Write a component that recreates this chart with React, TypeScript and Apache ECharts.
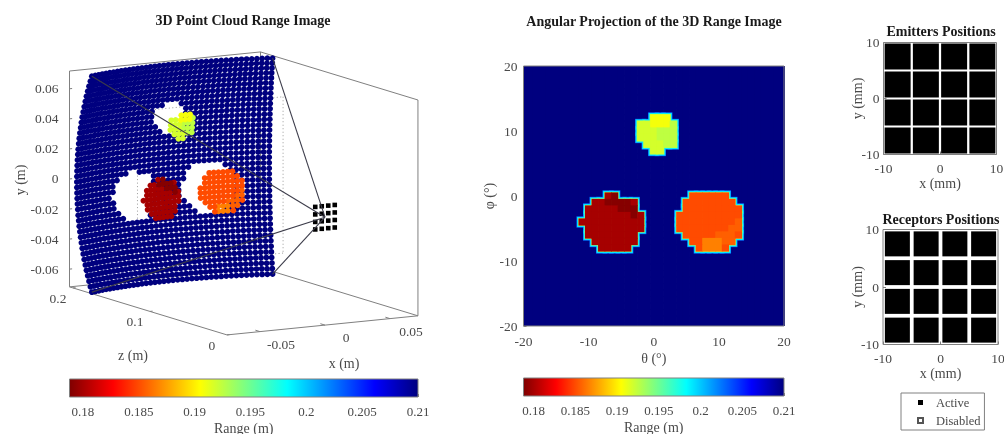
import React, { useEffect, useRef } from "react";
import * as echarts from "echarts";

const FONT = '"Liberation Serif"';
const TICK_COLOR = "#4a4a4a";
const BOX_COLOR = "#808080";

// Sampled range image: 41 rows (phi 20 -> -20) x 41 columns (theta -20 -> 20), one degree apart
const rangeRows = [
  ".........................................",
  ".........................................",
  ".........................................",
  ".........................................",
  ".........................................",
  ".........................................",
  ".........................................",
  ".........................................",
  "....................fff..................",
  "..................hhfffg.................",
  "..................hhhggg.................",
  "..................hhhggg.................",
  "...................hhhgg.................",
  "....................hh...................",
  ".........................................",
  ".........................................",
  ".........................................",
  ".........................................",
  ".........................................",
  ".........................................",
  ".............rD...........oooooo.........",
  "...........rrDDDDr.......oooooooo........",
  "..........rrrrrDDD.......ooooooooo.......",
  "..........rrrrrrrDr.....oooooooooo.......",
  ".........rrrrrrrrrr.....oooooooooe.......",
  "..........rrrrrrrrr.....ooooooooee.......",
  "..........rrrrrrrr.......oooooeeeo.......",
  "...........rrrrrrr........oodddee........",
  "............rrrrr..........odddo.........",
  ".........................................",
  ".........................................",
  ".........................................",
  ".........................................",
  ".........................................",
  ".........................................",
  ".........................................",
  ".........................................",
  ".........................................",
  ".........................................",
  ".........................................",
  ".........................................",
];
const rangeLevels: Record<string, number> = {
  ".": 0.21, D: 0.179, r: 0.18, o: 0.185, e: 0.1856, d: 0.1866, f: 0.1908, h: 0.1918, g: 0.1925,
};
const rangeMin = 0.1788;
const rangeMax = 0.21;
const rangeTicks = [0.18, 0.185, 0.19, 0.195, 0.2, 0.205, 0.21];
const angleTicks = [-20, -10, 0, 10, 20];
const mmTicks = [-10, 0, 10];
const sensorMm = [-7.5, -2.5, 2.5, 7.5];
const y3dTicks = [0.06, 0.04, 0.02, 0, -0.02, -0.04, -0.06];
const z3dTicks = [0.2, 0.1, 0];
const x3dTicks = [-0.05, 0, 0.05];
const fovCorners = [[-20, 20], [20, 20], [20, -20], [-20, -20]];
const frameHalf = { x: 0.056, y: 0.052, z: 0.149 };
const box3d = { x0: -0.0754, x1: 0.0715, y0: -0.0718, y1: 0.0718, z0: 0, z1: 0.2045 };
const cloudSpread = 1.03;
const cloudLift = -0.001;

const jetStops: [number, string][] = [
  [0, "#7f0000"], [0.125, "#ff0000"], [0.375, "#ffff00"], [0.625, "#00ffff"], [0.875, "#0000ff"], [1, "#00007f"],
];
const hex = (s: string) => [1, 3, 5].map((i) => parseInt(s.slice(i, i + 2), 16));
function jet(v: number) {
  const t = Math.max(0, Math.min(1, (v - rangeMin) / (rangeMax - rangeMin)));
  for (let i = 1; i < jetStops.length; i++) {
    if (t <= jetStops[i][0]) {
      const f = (t - jetStops[i - 1][0]) / (jetStops[i][0] - jetStops[i - 1][0]);
      const a = hex(jetStops[i - 1][1]);
      const b = hex(jetStops[i][1]);
      return `rgb(${a.map((c, k) => Math.round(c + (b[k] - c) * f)).join(",")})`;
    }
  }
  return jetStops[5][1];
}

// Orthographic view of the metric 3D scene on to the page
const project = (x: number, y: number, z: number) => [325 + 1300 * x - 770 * z, 217.2 - 130 * x - 235 * z - 1503 * y];
const rad = (d: number) => (d * Math.PI) / 180;
const spherical = (th: number, ph: number, r: number) => [
  cloudSpread * r * Math.sin(rad(th)) * Math.cos(rad(ph)),
  r * Math.sin(rad(ph)) + cloudLift,
  r * Math.cos(rad(th)) * Math.cos(rad(ph)),
];

const cells: number[][] = [];
rangeRows.forEach((row, k) => {
  row.split("").forEach((c, i) => cells.push([-20 + i, 20 - k, rangeLevels[c]]));
});
const blobCells = cells.filter((c) => c[2] < 0.21);

const segment3d = (a: number[], b: number[]) => {
  const p = project(a[0], a[1], a[2]);
  const q = project(b[0], b[1], b[2]);
  return [p[0], p[1], q[0], q[1]];
};

const segRender = (stroke: string, lineWidth: number, lineDash?: number[]) => (_: any, api: any) => {
  const a = api.coord([api.value(0), api.value(1)]);
  const b = api.coord([api.value(2), api.value(3)]);
  return {
    type: "line",
    shape: { x1: a[0], y1: a[1], x2: b[0], y2: b[1] },
    style: { stroke, lineWidth, lineDash, fill: null },
  };
};
const segSeries = (data: number[][], stroke: string, lineWidth: number, lineDash?: number[], z = 2) => ({
  type: "custom", xAxisIndex: 0, yAxisIndex: 0, silent: true, clip: false, data, z,
  renderItem: segRender(stroke, lineWidth, lineDash),
});
const cellSeries = (data: number[][], expand: number, color?: string) => ({
  type: "custom", xAxisIndex: 1, yAxisIndex: 1, silent: true, clip: true, data,
  renderItem: (_: any, api: any) => {
    const h = 0.5;
    const a = api.coord([api.value(0) - h, api.value(1) + h]);
    const b = api.coord([api.value(0) + h, api.value(1) - h]);
    return {
      type: "rect",
      shape: { x: a[0] - expand, y: a[1] - expand, width: b[0] - a[0] + 2 * expand, height: b[1] - a[1] + 2 * expand },
      style: { fill: color || jet(api.value(2)) },
    };
  },
});
const frameSeries = (axis: number, x0: number, x1: number, y0: number, y1: number) => ({
  type: "custom", xAxisIndex: axis, yAxisIndex: axis, silent: true, clip: false, z: 6, data: [[x0, y0, x1, y1]],
  renderItem: (_: any, api: any) => {
    const a = api.coord([api.value(0), api.value(3)]);
    const b = api.coord([api.value(2), api.value(1)]);
    return {
      type: "rect",
      shape: { x: a[0], y: a[1], width: b[0] - a[0], height: b[1] - a[1] },
      style: { fill: null, stroke: BOX_COLOR, lineWidth: 1 },
    };
  },
});
const colorbarSeries = (axis: number) => ({
  type: "custom", xAxisIndex: axis, yAxisIndex: axis, silent: true, clip: false, data: [[rangeMin, 0, rangeMax, 1]],
  renderItem: (_: any, api: any) => {
    const a = api.coord([api.value(0), api.value(3)]);
    const b = api.coord([api.value(2), api.value(1)]);
    return {
      type: "rect",
      shape: { x: a[0], y: a[1], width: b[0] - a[0], height: b[1] - a[1] },
      style: {
        fill: new echarts.graphic.LinearGradient(0, 0, 1, 0, jetStops.map(([offset, color]) => ({ offset, color }))),
      },
    };
  },
});

const sceneAxisX = { gridIndex: 0, type: "value", min: 0, max: 1004, show: false };
const sceneAxisY = { gridIndex: 0, type: "value", min: 0, max: 434, inverse: true, show: false };
const tickLabel = { fontFamily: FONT, fontSize: 13.5, color: TICK_COLOR };
const nameStyle = { fontFamily: FONT, fontSize: 14, color: TICK_COLOR };
const ticks = { show: true, inside: true, length: 3, lineStyle: { color: BOX_COLOR, width: 1 } };

const plotAxis = (gridIndex: number, values: number[], name: string, nameGap: number, margin: number) => ({
  gridIndex, type: "value", min: values[0], max: values[values.length - 1],
  interval: values[1] - values[0], name, nameLocation: "middle", nameGap, nameTextStyle: nameStyle, nameMoveOverlap: false,
  axisLine: { show: false, onZero: false }, axisTick: ticks, splitLine: { show: false },
  axisLabel: { ...tickLabel, margin, showMinLabel: true, showMaxLabel: true },
});
const colorbarAxis = (gridIndex: number) => ({
  gridIndex, type: "value", min: rangeMin, max: rangeMax, name: "Range (m)", nameLocation: "middle", nameGap: 24,
  nameTextStyle: nameStyle, nameMoveOverlap: false, axisLine: { show: false, onZero: false }, splitLine: { show: false },
  axisTick: { ...ticks, customValues: rangeTicks },
  axisLabel: { ...tickLabel, fontSize: 13, margin: 8, customValues: rangeTicks, formatter: (v: number) => String(v) },
});
const hiddenUnit = (gridIndex: number) => ({ gridIndex, type: "value", min: 0, max: 1, show: false });

const sensorGrid = sensorMm.flatMap((x) => sensorMm.map((y) => [x, y]));

function buildOption() {
  const { x0, x1, y0, y1, z0, z1 } = box3d;
  const boxEdges = [
    [[x0, y0, z1], [x0, y0, z0]], [[x0, y0, z0], [x1, y0, z0]], [[x1, y0, z0], [x1, y0, z1]], [[x1, y0, z1], [x0, y0, z1]],
    [[x0, y0, z1], [x0, y1, z1]], [[x1, y0, z1], [x1, y1, z1]], [[x1, y0, z0], [x1, y1, z0]],
    [[x0, y1, z1], [x1, y1, z1]], [[x1, y1, z1], [x1, y1, z0]],
  ].map(([a, b]) => segment3d(a, b));
  y3dTicks.forEach((y) => boxEdges.push(segment3d([x0, y, z1], [x0 + 0.002, y, z1])));
  z3dTicks.forEach((z) => boxEdges.push(segment3d([x0, y0, z], [x0 + 0.002, y0, z])));
  x3dTicks.forEach((x) => boxEdges.push(segment3d([x, y0, z0], [x, y0, z0 + 0.006])));

  const { x: fx, y: fy, z: fz } = frameHalf;
  const frameCorners = [[-fx, fy], [fx, fy], [fx, -fy], [-fx, -fy]];
  const dotted = frameCorners.map((c, i) => {
    const n = frameCorners[(i + 1) % 4];
    return segment3d([c[0], c[1], fz], [n[0], n[1], fz]);
  });

  const sensorOrigin = [0, 0, 0];
  const fovLines = fovCorners.map(([th, ph]) => segment3d(sensorOrigin, spherical(th, ph, rangeMax)));

  const cloud = [...cells]
    .sort((a, b) => b[2] - a[2])
    .map(([th, ph, r]) => {
      const s = spherical(th, ph, r);
      const p = project(s[0], s[1], s[2]);
      return { value: [p[0], p[1], r], itemStyle: { color: jet(r), opacity: 1 } };
    });

  const sensor3d = sensorGrid.map(([x, y]) => project(x / 1000, y / 1000, 0));

  const lbl = (text: string, p: number[], align = "center", fontSize = 13.5, rotation = 0) => ({
    type: "text", x: p[0], y: p[1], rotation, silent: true,
    style: { text, font: `${fontSize}px ${FONT}`, fill: TICK_COLOR, align, verticalAlign: "middle" },
  });

  const graphicTexts = [
    ...y3dTicks.map((y) => {
      const p = project(x0, y, z1);
      return lbl(String(y), [p[0] - 11, p[1]], "right");
    }),
    ...z3dTicks.map((z) => {
      const p = project(x0, y0, z);
      return lbl(String(z), [p[0] - 15, p[1] + 10.5]);
    }),
    ...x3dTicks.map((x) => {
      const p = project(x, y0, z0);
      return lbl(String(x), [p[0] + 21, p[1] + 12.5]);
    }),
    lbl("z (m)", [133, 355], "center", 14),
    lbl("x (m)", [344, 363], "center", 14),
    lbl("y (m)", [20, 180], "center", 14, Math.PI / 2),
  ];

  const titleStyle = (size: number) => ({ fontFamily: FONT, fontWeight: "bold", fontSize: size, color: "#1a1a1a" });
  const unbounded = { outerBoundsMode: "none", containLabel: false };

  return {
    animation: false,
    backgroundColor: "#ffffff",
    title: [
      { text: "3D Point Cloud Range Image", left: 243, top: 13, padding: 0, textAlign: "center", textStyle: titleStyle(14) },
      { text: "Angular Projection of the 3D Range Image", left: 654, top: 14, padding: 0, textAlign: "center", textStyle: titleStyle(14) },
      { text: "Emitters Positions", left: 941, top: 24, padding: 0, textAlign: "center", textStyle: titleStyle(14) },
      { text: "Receptors Positions", left: 941, top: 212, padding: 0, textAlign: "center", textStyle: titleStyle(14) },
    ],
    legend: {
      left: 901, top: 393, orient: "vertical", data: ["Active", "Disabled"], icon: "rect",
      itemWidth: 5, itemHeight: 5, itemGap: 5, padding: [3, 4, 3, 16],
      borderColor: BOX_COLOR, borderWidth: 1, selectedMode: false,
      textStyle: { fontFamily: FONT, fontSize: 12.5, color: TICK_COLOR, padding: [0, 0, 0, 8] },
    },
    grid: [
      { left: 0, top: 0, width: 1004, height: 434, ...unbounded },
      { left: 523.5, top: 66, width: 260.5, height: 260, ...unbounded },
      { left: 69.5, top: 379, width: 348.5, height: 18, ...unbounded },
      { left: 523.5, top: 378, width: 260.5, height: 18, ...unbounded },
      { left: 883.5, top: 42.5, width: 113, height: 112, ...unbounded },
      { left: 883, top: 229.5, width: 115, height: 115, ...unbounded },
    ],
    xAxis: [
      sceneAxisX,
      plotAxis(1, angleTicks, "θ (°)", 25, 8),
      colorbarAxis(2),
      colorbarAxis(3),
      plotAxis(4, mmTicks, "x (mm)", 21.5, 7),
      plotAxis(5, mmTicks, "x (mm)", 21.5, 7),
    ],
    yAxis: [
      sceneAxisY,
      plotAxis(1, angleTicks, "φ (°)", 27, 6),
      hiddenUnit(2),
      hiddenUnit(3),
      plotAxis(4, mmTicks, "y (mm)", 19, 4),
      plotAxis(5, mmTicks, "y (mm)", 19, 4),
    ],
    series: [
      segSeries(boxEdges, BOX_COLOR, 1),
      segSeries(dotted, "#9a9a9a", 1, [1, 2.5]),
      {
        type: "scatter", xAxisIndex: 0, yAxisIndex: 0, silent: true, clip: false, symbol: "circle", symbolSize: 5.8,
        progressive: 0, data: cloud,
      },
      segSeries(fovLines, "#3c3c4a", 1.1, undefined, 4),
      {
        type: "scatter", xAxisIndex: 0, yAxisIndex: 0, silent: true, clip: false, symbol: "rect", symbolSize: 4.6,
        itemStyle: { color: "#000", opacity: 1 }, data: sensor3d, z: 3,
      },
      cellSeries(cells, 0.4),
      cellSeries(blobCells, 2.4, "#0070ff"),
      cellSeries(blobCells, 1.8, "#00e8ff"),
      cellSeries(blobCells, 0.8, "#a8ff60"),
      cellSeries(blobCells, 0.35),
      frameSeries(1, -20, 20, -20, 20),
      colorbarSeries(2),
      frameSeries(2, rangeMin, rangeMax, 0, 1),
      colorbarSeries(3),
      frameSeries(3, rangeMin, rangeMax, 0, 1),
      {
        name: "Active", type: "scatter", xAxisIndex: 4, yAxisIndex: 4, silent: true, symbol: "rect", symbolSize: 26,
        itemStyle: { color: "#000", opacity: 1 }, data: sensorGrid,
      },
      frameSeries(4, -10, 10, -10, 10),
      {
        name: "Active", type: "scatter", xAxisIndex: 5, yAxisIndex: 5, silent: true, symbol: "rect", symbolSize: 25,
        itemStyle: { color: "#000", opacity: 1 }, data: sensorGrid,
      },
      frameSeries(5, -10, 10, -10, 10),
      {
        name: "Disabled", type: "scatter", xAxisIndex: 5, yAxisIndex: 5, silent: true, symbol: "rect",
        itemStyle: { color: "#fff", borderColor: "#555", borderWidth: 1, opacity: 1 }, data: [],
      },
    ],
    graphic: graphicTexts,
  };
}

export default function App() {
  const ref = useRef<HTMLDivElement>(null);
  useEffect(() => {
    const chart = echarts.init(ref.current!, undefined, { renderer: "svg" });
    chart.setOption(buildOption() as any);
    return () => chart.dispose();
  }, []);
  return (
    <div
      ref={ref}
      style={{ position: "absolute", left: 0, top: 0, width: 1004, height: 434, filter: "blur(0.55px)" }}
    />
  );
}
